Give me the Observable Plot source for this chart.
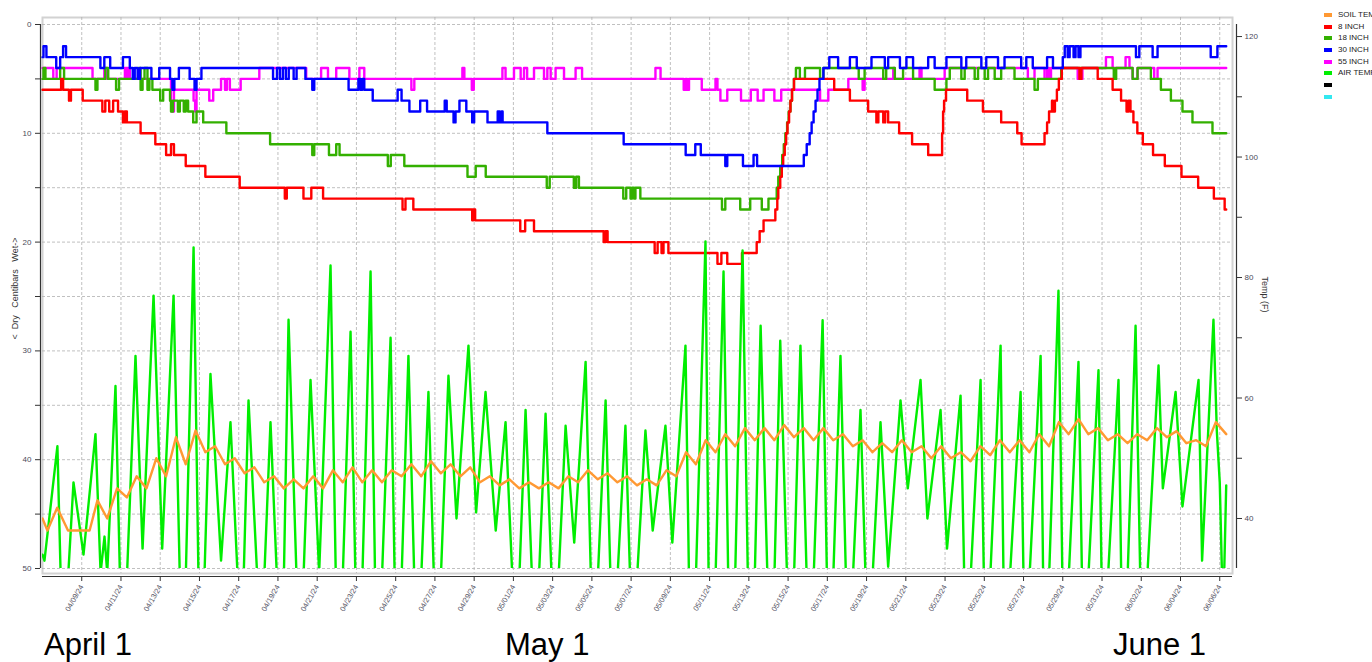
<!DOCTYPE html>
<html><head><meta charset="utf-8">
<script src="https://cdn.jsdelivr.net/npm/d3@7"></script>
<script src="https://cdn.jsdelivr.net/npm/@observablehq/plot@0.6"></script>
<style>
html,body{margin:0;padding:0;background:#fff;overflow:hidden}
#wrap{position:relative;width:1372px;height:662px;overflow:hidden;font-family:"Liberation Sans",Arial,sans-serif}
.layer{position:absolute;left:0;top:0}
#legend{position:absolute;left:1324px;top:9px;font-size:8px;color:#222;line-height:11.7px;white-space:nowrap}
#legend div{display:flex;align-items:center;height:11.7px}
#legend span.sw{display:inline-block;width:8px;height:4px;margin-right:6px}
.month{position:absolute;top:629px;font-size:31px;line-height:31px;color:#000}
</style></head>
<body><div id="wrap"><div id="p1" class="layer"></div><div id="p2" class="layer"></div><div id="legend"></div></div>
<script>
// ---- data (time = days since 04/07/24 00:00) ----
const seriesNames = ["SOIL TEMP","8   INCH","18 INCH","30 INCH","55 INCH","AIR TEMP","",""];
const seriesColors = ["#ff9933","#ff0000","#33b000","#0000ff","#ff00ff","#00ee00","#000000","#33e8f0"];
const monthLabels = ["April 1","May 1","June 1"];
const monthLeft = [44,505,1113];

const cb8 = [[0,6],[0.95,5],[1.05,6],[1.35,7],[1.45,6],[2.05,7],[3.05,8],[3.2,7],[3.4,8],[3.6,7],[3.85,8],[4.1,9],[4.2,8],[4.3,9],[5.0,10],[5.75,11],[6.3,12],[6.55,11],[6.7,12],[7.3,13],[8.3,14],[10.05,15],[12.35,16],[12.45,15],[13.3,16],[13.7,15],[14.3,16],[18.35,17],[18.5,16],[18.9,17],
[21.9,18],[21.95,17],[22.05,18],[24.35,19],[24.6,18],[25.05,19],[28.6,20],[28.7,19],[28.8,20],[31.2,21],[31.35,20],[31.55,21],[31.65,20],[31.9,21],[34.4,22],[34.6,21],[34.9,22],[35.65,21],[36.4,20],[36.55,19],[36.75,18],
[37.35,17],[37.45,16],[37.5,15],[37.6,14],[37.68,13],[37.75,12],[37.83,11],[37.9,10],[37.97,9],[38.05,8],[38.12,7],[38.2,6],[38.3,5],[40.35,6],[41.15,7],[42.08,8],[42.5,9],[42.6,8],[42.85,9],[42.95,8],[43.1,9],[43.66,10],[44.32,11],[45.14,12],[45.85,10],[45.9,8],[45.95,7],[46.05,6],[47.13,7],[47.93,8],[48.86,9],[49.68,10],[49.9,11],[51.07,10],[51.2,9],[51.3,8],[51.45,7],[51.5,8],[51.6,7],[51.7,6],[51.8,5],[51.95,4],[52.85,5],[52.95,4],[53.78,5],[54.54,6],[54.97,7],[55.25,8],[55.35,7],[55.45,8],[55.6,9],[55.8,10],[56.08,11],[56.6,12],[57.2,13],[58.05,14],[58.9,15],[59.7,16],[60.25,17],[60.33,17]];

const cb18 = [[0,5],[0.05,4],[0.15,5],[0.9,4],[1.1,5],[2.7,6],[2.8,5],[3.2,4],[3.35,5],[3.75,6],[3.9,5],[4.9,4],[5.0,6],[5.1,5],[5.2,4],[5.35,6],[5.45,5],[5.6,6],[6.0,7],[6.15,6],[6.5,7],[6.55,8],[6.65,7],[6.9,8],[7.0,7],[7.2,8],[7.3,7],[7.42,8],[7.68,9],[7.85,8],[8.19,9],[9.37,10],[11.6,11],[13.75,12],[13.85,11],[14.6,12],[14.97,11],[15.14,12],[17.6,13],[17.75,12],[18.44,13],
[21.66,14],[22.08,13],[22.59,14],[25.7,15],[25.85,14],[27.08,15],[27.2,14],[27.34,15],[29.6,16],[29.75,15],[29.97,16],[30.05,15],[30.15,16],[30.22,15],[30.47,16],[34.63,17],[34.8,16],[35.56,17],[36.07,16],[36.66,17],[37.0,16],
[37.42,15],[37.5,14],[37.6,13],[37.7,12],[37.78,11],[37.86,10],[37.95,9],[38.03,8],[38.12,7],[38.2,6],[38.3,5],[38.4,4],[38.6,5],[38.86,4],[39.63,5],[39.8,4],
[41.6,5],[41.9,4],[42.85,5],[43.0,4],[43.44,5],[43.86,4],[44.37,5],[45.47,6],[46.07,5],[46.24,4],[46.83,5],[47.0,4],[47.51,5],[47.68,4],[48.02,5],[48.19,4],[48.53,5],[48.86,4],[49.54,5],[50.56,6],[50.73,5],[51.92,4],[54.6,5],[54.72,4],[55.56,5],[55.81,4],[56.49,5],[57.0,6],[57.51,7],[58.1,8],[58.61,9],[59.63,10],[60.33,10]];

const cb30 = [[0,3],[0.05,2],[0.2,3],[0.7,4],[0.9,3],[1.05,2],[1.2,3],[2.95,4],[3.15,3],[3.45,4],[4.1,3],[4.45,4],[4.6,5],[4.7,4],[4.85,5],[4.97,4],[5.55,5],[5.95,4],[6.5,5],[6.62,6],[6.72,5],[6.95,4],[7.5,5],[7.75,6],[7.85,5],[8.1,4],
[11.75,5],[11.95,4],[12.1,5],[12.25,4],[12.4,5],[12.55,4],[12.8,5],[12.95,4],[13.4,5],[13.75,6],[13.85,5],[15.6,6],[16.1,5],[16.2,6],[16.3,5],[16.4,6],[16.83,7],[18.1,6],[18.3,7],[18.7,8],[19.25,7],[19.6,8],
[20.5,7],[20.6,8],[20.95,9],[21.05,8],[21.25,7],[21.6,8],[21.9,9],[22.0,8],[22.68,9],[23.2,8],[23.3,9],[23.4,8],[23.45,9],[25.73,10],[29.62,11],[32.78,12],[33.27,11],[33.55,12],[34.8,13],[34.9,12],[35.7,13],[36.24,12],[36.42,13],
[38.8,12],[38.95,11],[39.1,10],[39.2,9],[39.3,8],[39.4,7],[39.5,6],[39.6,5],[39.8,4],[40.1,3],[40.55,4],
[41.15,3],[41.5,4],[42.25,3],[42.93,4],[43.1,3],[43.7,4],[44.03,3],[44.37,4],[45.14,3],[45.47,4],[46.07,3],[46.83,4],[47.08,3],[47.85,4],[48.1,3],[48.7,4],[49.03,3],[49.88,4],[50.14,3],[50.47,4],[51.2,3],[51.5,4],
[52.0,3],[52.1,2],[52.25,3],[52.35,2],[52.55,3],[52.65,2],[52.8,3],[52.9,2],[55.73,3],[55.9,2],[56.58,3],[56.83,2],[59.54,3],[59.88,2],[60.33,2]];

const cb55 = [[0,4],[0.55,5],[0.72,4],[2.55,5],[3.15,4],[3.3,5],[4.2,4],[4.3,5],[4.35,4],[4.45,5],[6.55,7],[6.6,8],[6.7,6],[7.7,7],[7.78,8],[7.85,6],[8.5,7],[8.7,6],[9.1,5],[9.3,6],[9.4,5],[9.55,6],[10.1,5],[11.05,4],[13.44,5],[14.2,4],[14.55,5],[14.97,4],[15.64,5],[16.15,4],[16.4,5],[18.8,6],[18.95,5],
[21.4,4],[21.5,5],[21.88,6],[21.98,5],[23.44,4],[23.6,5],[24.03,4],[24.37,5],[24.54,4],[24.7,5],[25.05,4],[25.56,5],[25.73,4],[25.9,5],[26.15,4],[26.58,5],[27.17,4],[27.5,5],[31.24,4],[31.5,5],[32.68,6],[32.78,5],[32.85,6],[32.95,5],[33.6,6],[34.3,5],[34.4,6],[34.55,7],[34.9,6],[35.6,7],[36.1,6],[36.45,7],[36.75,6],[37.3,7],[37.65,6],[39.63,7],[40.05,6],
[41.07,5],[41.8,6],[41.9,5],[43.36,4],[43.44,5],[44.7,4],[44.8,5],[45.98,4],[50.22,5],[50.56,4],[51.07,5],[51.2,4],[51.3,5],[51.4,4],[52.76,5],[53.0,4],[54.2,3],[54.54,4],[55.2,3],[55.4,4],[55.56,5],[55.81,4],[56.66,5],[56.83,4],[60.33,4]];

// air temperature turning points; 30 = below the axis floor (line leaves the frame)
const airTemp = [[0,34],[0.1,33],[0.76,52],[0.93,30],[1.3,30],[1.58,46],[2.09,34],[2.7,54],[2.96,31],[3.16,37],[3.3,31],[3.72,62],[3.95,30],[4.3,30],[4.74,67],[5.1,35],[5.66,77],[6.1,35],[6.68,77],[7.0,30],[7.3,30],[7.7,85],[7.95,30],[8.25,30],[8.56,64],[9.1,33],[9.58,56],[9.95,30],[10.25,30],[10.5,59.6],[10.95,30],[11.3,30],[11.62,56],[11.95,30],[12.3,30],[12.54,73],[12.95,30],[13.3,30],[13.66,63],[14.1,31],[14.68,82],[14.95,30],[15.3,30],[15.7,71],[15.95,30],[16.3,30],[16.72,81],[16.95,30],[17.3,30],[17.74,70],[17.95,30],[18.3,30],[18.65,67],[18.95,30],[19.3,30],[19.67,61],[19.95,30],[20.3,30],[20.69,63.7],[21.1,40],[21.71,68.7],[22.1,41],[22.58,61],[23.1,38],[23.6,56],[23.95,30],[24.3,30],[24.62,58],[24.95,30],[25.3,30],[25.64,57.4],[25.95,30],[26.3,30],[26.66,55.4],[27.1,36],[27.68,66],[27.95,30],[28.3,30],[28.7,59.6],[28.95,30],[29.3,30],[29.71,55.4],[29.95,30],[30.3,30],[30.73,54.6],[31.1,38],[31.75,55.4],[32.1,36],[32.77,68.7],[32.95,30],[33.3,30],[33.79,86],[33.95,30],[34.3,30],[34.71,81],[34.95,30],[35.3,30],[35.68,84.5],[35.95,30],[36.3,30],[36.6,72],[36.95,30],[37.3,30],[37.6,69.5],[37.95,30],[38.3,30],[38.63,68.7],[38.95,30],[39.3,30],[39.76,72.9],[39.98,30],[40.3,30],[40.67,67],[40.95,30],[41.3,30],[41.69,58],[41.95,30],[42.3,30],[42.71,56],[43.1,32],[43.73,59.6],[44.1,45],[44.75,63],[45.1,40],[45.77,58],[46.1,35],[46.79,60.4],[46.98,30],[47.3,30],[47.81,63],[47.98,30],[48.3,30],[48.83,68.7],[48.98,30],[49.3,30],[49.85,61],[50.0,30],[50.3,30],[50.87,67],[51.0,30],[51.3,30],[51.78,77.8],[51.98,30],[52.3,30],[52.8,66],[52.98,30],[53.3,30],[53.82,64.6],[53.98,30],[54.3,30],[54.84,63],[54.98,30],[55.3,30],[55.71,72],[55.95,30],[56.3,30],[56.88,65.4],[57.1,45],[57.75,61],[58.1,42],[58.92,63],[59.1,33],[59.68,73],[59.85,54.6],[60.0,46],[60.12,30],[60.22,30],[60.33,45.5]];

const soilTemp = [[0,40],[0.25,38],[0.75,41.8],[1.3,38],[2.4,38],[2.8,43],[3.3,40],[3.8,45],[4.3,43.5],[4.8,47],[5.3,45],[5.8,50],[6.3,47],[6.8,53.5],[7.3,49],[7.8,54.6],[8.3,51],[8.8,52],[9.3,49],[9.8,50],[10.3,47.5],[10.8,48.5],[11.3,46],[11.8,47],[12.3,45],[12.8,46.5],[13.3,45],[13.8,47],[14.3,45],[14.8,48],[15.3,46],[15.8,48.5],[16.3,46],[16.8,48],[17.3,46],[17.8,48],[18.3,47],[18.8,49],[19.3,47],[19.8,49.5],[20.3,47.5],[20.8,49],[21.3,47],[21.8,48.5],[22.3,46],[22.8,47],[23.3,45.5],[23.8,46.5],[24.3,45],[24.8,46],[25.3,45],[25.8,46],[26.3,45],[26.8,47],[27.3,46],[27.8,48],[28.3,46.5],[28.8,47.5],[29.3,46],[29.8,47],[30.3,45.5],[30.8,46.5],[31.3,45.5],[31.8,48],[32.3,47],[32.8,51],[33.3,49],[33.8,53],[34.3,51],[34.8,54],[35.3,52],[35.8,55],[36.3,53],[36.8,55],[37.3,53],[37.8,55.5],[38.3,53.5],[38.8,55],[39.3,53],[39.8,55],[40.3,53],[40.8,54],[41.3,52],[41.8,53],[42.3,51],[42.8,52.5],[43.3,51],[43.8,53],[44.3,51],[44.8,52],[45.3,50],[45.8,52],[46.3,50],[46.8,51],[47.3,49.5],[47.8,52],[48.3,50.5],[48.8,53],[49.3,51],[49.8,53],[50.3,51],[50.8,54],[51.3,52],[51.8,56],[52.3,54],[52.8,56.5],[53.3,54],[53.8,55],[54.3,53],[54.8,54],[55.3,52.5],[55.8,54],[56.3,53],[56.8,55],[57.3,53.5],[57.8,54.5],[58.3,52.5],[58.8,53],[59.3,52],[59.8,56],[60.33,54]];

const cbTicksLabeled = [0,10,20,30,40,50];
const cbTicksMinor = [5,15,25,35,45];
const cbGrid = [0,5,10,15,20,25,30,35,40,45,50];
const tempTicksLabeled = [40,60,80,100,120];
const tempTicksMinor = [50,70,90,110];
const dayTicks = [2,4,6,8,10,12,14,16,18,20,22,24,26,28,30,32,34,36,38,40,42,44,46,48,50,52,54,56,58,60];
const xStartDay = 0, xEndDay = 60.65;
const cbDomain = [0,50];
const tempDomain = [31.7,122];
const leftLabel = "<  Dry   Centibars   Wet->";
const rightLabel = "Temp (F)";

// ---- build ----
const T0 = Date.UTC(2024,3,7);
const toDate = d => new Date(T0 + d*864e5);
const rows = arr => arr.map(([d,v]) => ({date: toDate(d), v}));
const xTickDates = dayTicks.map(toDate);
const fmt = d3.utcFormat("%m/%d/%y");
const W = 1372, H = 662;
const common = {width: W, height: H, marginLeft: 42, marginRight: 140, marginTop: 24, marginBottom: 94,
  style: {background: "transparent", fontFamily: "Liberation Sans, Arial, sans-serif", overflow: "visible"}};
const xDom = [toDate(xStartDay), toDate(xEndDay)];
const lw = 2.4;

const p1 = Plot.plot({...common,
  x: {type: "utc", domain: xDom, label: null},
  y: {domain: cbDomain, reverse: true, label: null},
  marks: [
    Plot.frame({stroke: "#d2d2d2", strokeWidth: 2, insetTop: -7, insetBottom: -5}),
    Plot.gridY(cbGrid, {stroke: "#b0b0b0", strokeOpacity: 1, strokeDasharray: "3,2", strokeWidth: 0.8}),
    Plot.gridX(xTickDates, {stroke: "#b0b0b0", strokeOpacity: 1, strokeDasharray: "3,2", strokeWidth: 0.8, insetTop: -7, insetBottom: -5}),
    Plot.line(rows(cb55), {x: "date", y: "v", stroke: seriesColors[4], strokeWidth: lw, curve: "step-after"}),
    Plot.line(rows(cb18), {x: "date", y: "v", stroke: seriesColors[2], strokeWidth: lw, curve: "step-after"}),
    Plot.line(rows(cb8), {x: "date", y: "v", stroke: seriesColors[1], strokeWidth: lw, curve: "step-after"}),
    Plot.line(rows(cb30), {x: "date", y: "v", stroke: seriesColors[3], strokeWidth: lw, curve: "step-after"}),
    Plot.ruleX([xDom[0]], {y1: cbDomain[0], y2: cbDomain[1], dx: -2, stroke: "#333", strokeWidth: 1.2}),
    Plot.axisY(cbTicksLabeled, {anchor: "left", tickSize: 5, dx: -2, tickPadding: 4, fontSize: 8, color: "#4a4a5a", stroke: "#333", label: null}),
    Plot.axisY(cbTicksMinor, {anchor: "left", tickSize: 5, dx: -2, text: null, stroke: "#333", label: null}),
    Plot.ruleY([cbDomain[1]], {dy: 8, stroke: "#333", strokeWidth: 1.2}),
    Plot.axisX(xTickDates, {anchor: "bottom", tickSize: 5, dy: 8, tickPadding: 4, tickRotate: -60, tickFormat: fmt, fontSize: 7.5, color: "#555566", stroke: "#333", label: null}),
    Plot.text([leftLabel], {frameAnchor: "left", dx: -27, dy: -8, rotate: -90, textAnchor: "middle", fontSize: 9, fill: "#333"})
  ]
});
const p2 = Plot.plot({...common,
  x: {type: "utc", domain: xDom, axis: null},
  y: {domain: tempDomain, label: null},
  marks: [
    Plot.line(rows(airTemp), {x: "date", y: "v", stroke: seriesColors[5], strokeWidth: lw, clip: true}),
    Plot.line(rows(soilTemp), {x: "date", y: "v", stroke: seriesColors[0], strokeWidth: lw, clip: true}),
    Plot.ruleX([xDom[1]], {y1: tempDomain[0], y2: tempDomain[1], dx: 4, stroke: "#333", strokeWidth: 1.2}),
    Plot.axisY(tempTicksLabeled, {anchor: "right", tickSize: 5, dx: 4, tickPadding: 3, fontSize: 8, color: "#4a4a5a", stroke: "#333", label: null}),
    Plot.axisY(tempTicksMinor, {anchor: "right", tickSize: 5, dx: 4, text: null, stroke: "#333", label: null}),
    Plot.text([rightLabel], {frameAnchor: "right", dx: 32, dy: -2, rotate: 90, textAnchor: "middle", fontSize: 9, fill: "#333"})
  ]
});
document.getElementById("p1").append(p1);
document.getElementById("p2").append(p2);

const lg = document.getElementById("legend");
seriesNames.forEach((n,i) => {
  const row = document.createElement("div");
  row.innerHTML = `<span class="sw" style="background:${seriesColors[i]}"></span><span>${n}</span>`;
  lg.append(row);
});
const wrap = document.getElementById("wrap");
monthLabels.forEach((m,i) => {
  const el = document.createElement("div");
  el.className = "month"; el.style.left = monthLeft[i] + "px"; el.textContent = m;
  wrap.append(el);
});
</script></body></html>
